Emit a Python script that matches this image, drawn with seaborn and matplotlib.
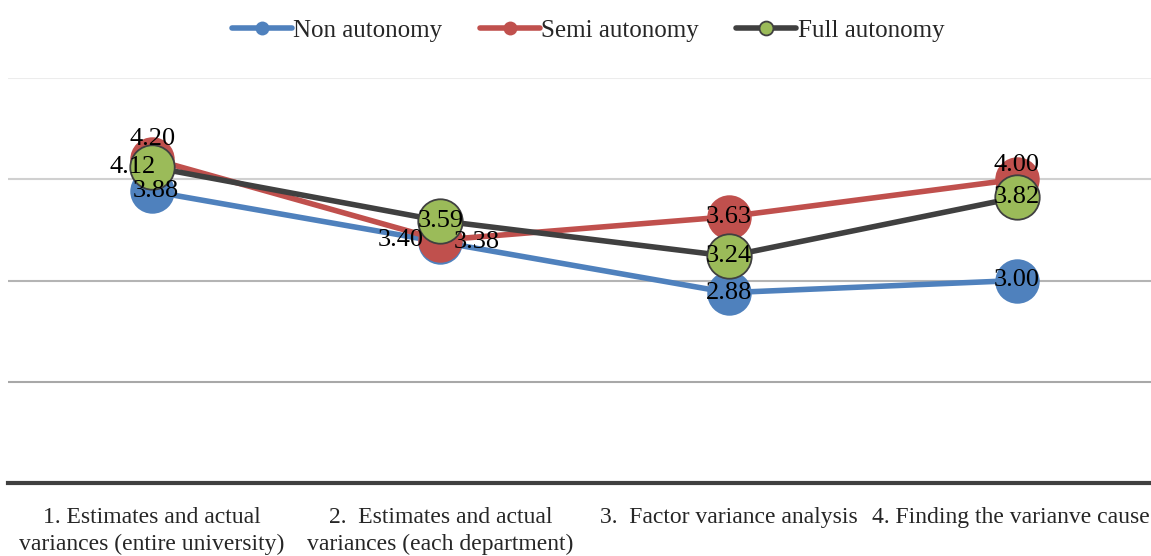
import matplotlib.pyplot as plt
import pandas as pd
import seaborn as sns
from matplotlib.transforms import ScaledTranslation

categories = ["1. Estimates and actual\nvariances (entire university)",
              "2.  Estimates and actual\nvariances (each department)",
              "3.  Factor variance analysis",
              "4. Finding the varianve cause"]
non_autonomy = [3.88, 3.38, 2.88, 3.00]
semi_autonomy = [4.20, 3.40, 3.63, 4.00]
full_autonomy = [4.12, 3.59, 3.24, 3.82]
grid_values = [2, 3, 4, 5]

sns.set_style("white")
plt.rcParams['font.family'] = ['Liberation Serif', 'DejaVu Serif']

fig = plt.figure(figsize=(11.51, 5.56), dpi=100)
ax = fig.add_axes([8 / 1151, 73 / 556, 1153 / 1151, 405 / 556])

# gridlines get darker towards the bottom in the original
grid_colors = ["#a8a8a8", "#b4b4b4", "#d0d0d0", "#ececec"]
for g, c in zip(grid_values, grid_colors):
    ax.axhline(g, color=c, lw=1.5, zorder=0)

x = list(range(len(categories)))
series = [
    ("Non autonomy", non_autonomy, "#4F81BD", "#4F81BD", "#4F81BD"),
    ("Semi autonomy", semi_autonomy, "#C0504D", "#C0504D", "#C0504D"),
    ("Full autonomy", full_autonomy, "#404040", "#9BBB59", "#404040"),
]
for name, vals, lc, fc, ec in series:
    sns.lineplot(x=x, y=vals, ax=ax, color=lc, lw=4, marker="o", markersize=32,
                 markerfacecolor=fc, markeredgecolor=ec,
                 markeredgewidth=1.3 if name == "Full autonomy" else 0,
                 label=name)

# data labels (offsets in pixels, like the hand-moved labels in the original)
offsets = {
    "Non autonomy": [(4, 0), (36, 0), (0, 0), (0, 0)],
    "Semi autonomy": [(0, 20), (-40, 0), (0, 0), (0, 14)],
    "Full autonomy": [(-20, 0), (0, 0), (0, 0), (0, 0)],
}
for name, vals, *_ in series:
    for xi, v, (dx, dy) in zip(x, vals, offsets[name]):
        ax.annotate(f"{v:.2f}", (xi, v), xytext=(dx * 0.72, dy * 0.72),
                    textcoords="offset points", ha="center", va="center",
                    fontsize=19, color="black", zorder=10)

ax.set_xlim(-0.5, 3.5)
ax.set_ylim(1, 5)
ax.set_yticks([])
ax.set_xticks(x)
ax.set_xticklabels(categories, fontsize=17, linespacing=1.4)
ax.tick_params(axis="x", length=0, pad=17)
# nudge the last label a few pixels left so it stays inside the figure
last = ax.get_xticklabels()[-1]
last.set_transform(last.get_transform() + ScaledTranslation(-0.06, 0, fig.dpi_scale_trans))
for s in ["top", "right", "left"]:
    ax.spines[s].set_visible(False)
ax.spines["bottom"].set_color("#404040")
ax.spines["bottom"].set_linewidth(3)

leg = ax.legend(loc="upper center", bbox_to_anchor=(580 / 1153, 1.2), ncol=3,
                frameon=False, fontsize=18, handlelength=2.4, handletextpad=0.05,
                columnspacing=1.5)
for h in leg.legend_handles:
    h.set_markersize(10)

fig.savefig("out.png", dpi=100)
